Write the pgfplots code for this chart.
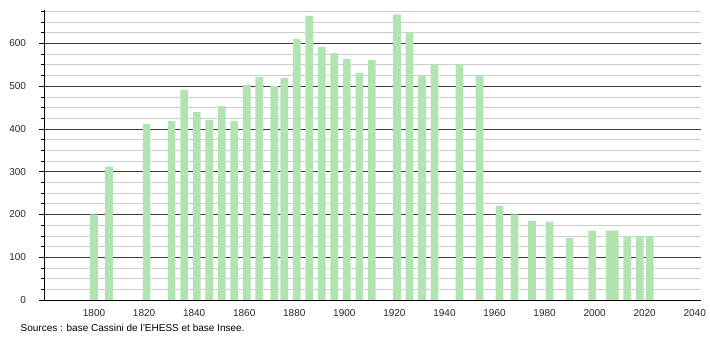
\documentclass[border=0pt]{standalone}
\usepackage{fontspec}
\setmainfont{Liberation Sans}
\usepackage{pgfplots}
\pgfplotsset{compat=1.18}
\definecolor{barg}{RGB}{178,228,178}
\definecolor{majg}{RGB}{60,60,60}
\definecolor{ming}{RGB}{205,205,205}
\begin{document}
\fontsize{10}{12}\selectfont
\begin{tikzpicture}
\path[use as bounding box] (0pt,0pt) rectangle (710pt,340pt);
\begin{axis}[
  at={(44pt,40pt)}, anchor=south west,
  scale only axis, width=657pt, height=290pt,
  xmin=1780, xmax=2042.5, ymin=0, ymax=678,
  axis x line*=bottom, axis y line*=left,
  axis line style={black, line width=0.8pt},
  xtick={1800,1820,...,2040}, xtick style={draw=none},
  ytick={0,100,...,600}, minor ytick={25,50,...,675},
  ymajorgrids, yminorgrids,
  major grid style={majg, line width=0.7pt},
  minor grid style={ming, line width=0.6pt},
  tick align=outside,
  major tick length=5pt, minor tick length=3pt,
  ytick style={black, line width=0.6pt},
  tick label style={font=\fontsize{10}{12}\selectfont, text=black!85},
  yticklabel style={xshift=-9.5pt},
  xticklabel style={yshift=-1pt},
  /pgf/number format/1000 sep={},
  /pgf/number format/assume math mode=true,
  clip=false,
  ybar, bar width=7.7pt, bar shift=0pt,
]
\addplot[fill=barg, draw=none] coordinates {
(1800,200) (1806,312) (1821,411) (1831,418) (1836,491) (1841,439) (1846,421)
(1851,453) (1856,418) (1861,503) (1866,521) (1872,500) (1876,519) (1881,610)
(1886,664) (1891,591) (1896,577) (1901,563) (1906,531) (1911,561) (1921,668)
(1926,626) (1931,525) (1936,551) (1946,551) (1954,525) (1962,220) (1968,200)
(1975,185) (1982,183) (1990,145) (1999,162) (2006,162) (2008,162) (2013,150)
(2018,150) (2022,150)
};
\end{axis}
\node[anchor=west, inner sep=0pt] at (20.5pt,12pt) {Sources : base Cassini de l'EHESS et base Insee.};
\end{tikzpicture}
\end{document}
